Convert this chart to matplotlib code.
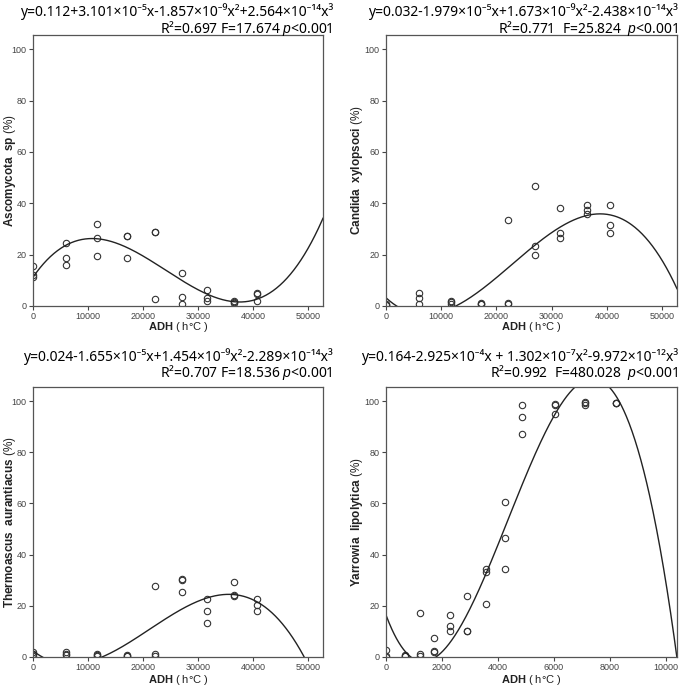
import numpy as np
import matplotlib
matplotlib.use('Agg')
import matplotlib.pyplot as plt

plt.rcParams['font.family'] = ['Liberation Sans', 'DejaVu Sans']
plt.rcParams['mathtext.fontset'] = 'custom'
plt.rcParams['mathtext.rm'] = 'Liberation Sans'
plt.rcParams['mathtext.bf'] = 'Liberation Sans:bold'
plt.rcParams['mathtext.it'] = 'Liberation Sans:italic'

# ADH groups (3 replicates each) for the first three species
adh = [0, 5950, 11700, 17150, 22150, 27000, 31600, 36450, 40650]
asco = [15.6, 12.2, 11.3, 24.6, 18.8, 15.9, 31.9, 26.4, 19.4,
        27.4, 27.2, 18.8, 29.0, 28.9, 2.9, 12.8, 3.5, 0.8,
        6.2, 3.3, 1.8, 1.9, 1.5, 1.2, 5.1, 4.5, 2.1]
candida = [0.9, 0.4, 0.2, 5.0, 3.1, 0.6, 1.9, 1.4, 0.9,
           1.0, 0.8, 0.7, 33.4, 1.0, 0.9, 46.7, 23.5, 19.9,
           38.1, 28.5, 26.3, 39.5, 37.3, 35.7, 39.5, 31.6, 28.3]
thermo = [1.8, 1.2, 0.5, 2.1, 1.2, 0.8, 1.2, 0.8, 0.5,
          0.8, 0.5, 0.4, 27.7, 1.0, 0.5, 30.5, 29.9, 25.4,
          22.8, 17.9, 13.2, 29.4, 24.3, 23.9, 22.5, 20.3, 18.1]

# Yarrowia has its own ADH groups
adh_y = [0, 690, 1226, 1714, 2286, 2905, 3583, 4262, 4857, 6036, 7119, 8214]
yarrowia = [2.6, 0.5, 0.0, 0.6, 0.4, 0.5, 17.1, 1.0, 0.3,
            7.3, 2.3, 1.8, 16.4, 12.2, 10.2, 23.8, 10.3, 10.2,
            34.2, 33.3, 20.9, 60.6, 46.6, 34.5, 98.4, 93.8, 87.3,
            99.0, 98.3, 94.8, 99.5, 99.1, 98.4, 99.3, 99.2, 99.1]

# cubic fit coefficients as printed (constant, x, x^2, x^3), fraction units
coef_asco = [0.112, 3.101e-5, -1.857e-9, 2.564e-14]
coef_cand = [0.032, -1.979e-5, 1.673e-9, -2.438e-14]
coef_ther = [0.024, -1.655e-5, 1.454e-9, -2.289e-14]
coef_yarr = [0.164, -2.925e-4, 1.302e-7, -9.972e-12]

eq1 = ['y=0.112+3.101×10⁻⁵x-1.857×10⁻⁹x²+2.564×10⁻¹⁴x³',
       'y=0.032-1.979×10⁻⁵x+1.673×10⁻⁹x²-2.438×10⁻¹⁴x³',
       'y=0.024-1.655×10⁻⁵x+1.454×10⁻⁹x²-2.289×10⁻¹⁴x³',
       'y=0.164-2.925×10⁻⁴x + 1.302×10⁻⁷x²-9.972×10⁻¹²x³']
eq2 = [r'R²=0.697 F=17.674 $p$<0.001',
       r'R²=0.771  F=25.824  $p$<0.001',
       r'R²=0.707 F=18.536 $p$<0.001',
       r'R²=0.992  F=480.028  $p$<0.001']

ylabels = [r'$\mathbf{Ascomycota\ \ sp}$ (%)',
           r'$\mathbf{Candida\ \ xylopsoci}$ (%)',
           r'$\mathbf{Thermoascus\ \ aurantiacus}$ (%)',
           r'$\mathbf{Yarrowia\ \ lipolytica}$ (%)']

W, H = 685, 687
fig = plt.figure(figsize=(W / 100, H / 100), dpi=100)

# panel boxes in pixels: left, top, right, bottom
boxes = [(33, 35, 323, 306), (386, 35, 677, 306),
         (33, 387, 323, 657), (386, 387, 677, 657)]
panels = [(adh, asco, coef_asco, 52700, 10000),
          (adh, candida, coef_cand, 52700, 10000),
          (adh, thermo, coef_ther, 52700, 10000),
          (adh_y, yarrowia, coef_yarr, 10390, 2000)]
eq_right = [333, 678, 333, 678]
label_off = [23, 29, 23, 29]
xlab_off = [21, 21, 23, 23]

for i, (xs, ys, coef, xmax, step) in enumerate(panels):
    l, t, r, b = boxes[i]
    ax = fig.add_axes([l / W, 1 - b / H, (r - l) / W, (b - t) / H])
    xr = np.repeat(xs, 3)
    ax.plot(xr, ys, 'o', mfc='none', mec='#333333', ms=4.6, mew=0.8)
    xx = np.linspace(0, xmax, 500)
    ax.plot(xx, 100 * np.polyval(coef[::-1], xx), color='#222222', lw=1.0)
    ax.set_xlim(0, xmax)
    ax.set_ylim(0, 105.5)
    ax.set_xticks(np.arange(0, xmax, step))
    ax.set_yticks(range(0, 101, 20))
    ax.tick_params(direction='out', length=3, width=0.8, labelsize=6.5,
                   colors='#444444', pad=1.5)
    for s in ax.spines.values():
        s.set_color('#555555')
        s.set_linewidth(0.9)
    ax.set_ylabel(ylabels[i], fontsize=8.5, color='#222222', va='center')
    ax.yaxis.set_label_coords(-label_off[i] / (r - l), 0.5)
    ax.set_xlabel(r'$\mathbf{ADH}$ ( h°C )', fontsize=8, color='#222222',
                  va='center')
    ax.xaxis.set_label_coords(0.5, -xlab_off[i] / (b - t))

    ty = t - 23 if i < 2 else t - 30
    fig.text(eq_right[i] / W, 1 - ty / H, eq1[i], ha='right', va='center',
             fontsize=10, family=['Noto Sans', 'DejaVu Sans'])
    fig.text(eq_right[i] / W, 1 - (ty + 16) / H, eq2[i], ha='right',
             va='center', fontsize=10, family=['Noto Sans', 'DejaVu Sans'])

fig.savefig('out.png', dpi=100)
